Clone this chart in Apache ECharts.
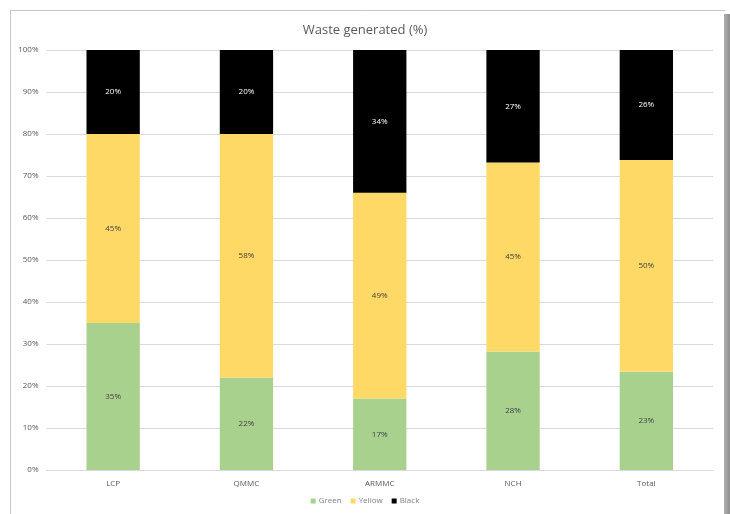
<!DOCTYPE html>
<html>
<head>
<meta charset="utf-8">
<script src="https://cdn.jsdelivr.net/npm/echarts@6/dist/echarts.min.js"></script>
<style>
  html, body { margin: 0; padding: 0; background: #fff; }
  #chart { width: 730px; height: 514px; }
</style>
</head>
<body>
<div id="chart"></div>
<script>
// Share of waste by colour category at each site (%)
const categories = ['LCP', 'QMMC', 'ARMMC', 'NCH', 'Total'];
const green  = [35, 22, 17, 28.2, 23.4];
const yellow = [45, 58, 49, 45, 50.4];
const black  = [20, 20, 34, 26.8, 26.2];
const yTicks = [0, 10, 20, 30, 40, 50, 60, 70, 80, 90, 100];

const FONT = '"Open Sans", "Liberation Sans", sans-serif';
const chart = echarts.init(document.getElementById('chart'), null, { renderer: 'canvas' });

function barSeries(name, data, color, labelColor) {
  return {
    name: name,
    type: 'bar',
    stack: 'share',
    data: data,
    barWidth: '40%',
    itemStyle: { color: color },
    label: {
      show: true,
      position: 'inside',
      color: labelColor,
      fontFamily: FONT,
      fontSize: 8,
      fontWeight: 'normal',
      formatter: p => Math.round(p.value) + '%'
    },
    emphasis: { disabled: true }
  };
}

chart.setOption({
  animation: false,
  backgroundColor: '#fff',
  title: {
    text: 'Waste generated (%)',
    left: 'center',
    top: 19,
    textStyle: { fontFamily: FONT, fontSize: 13, fontWeight: 'normal', color: '#595959' }
  },
  legend: {
    bottom: 4,
    left: 'center',
    itemWidth: 5,
    itemHeight: 5,
    itemGap: 9,
    icon: 'rect',
    textStyle: { fontFamily: FONT, fontSize: 8, color: '#7f7f7f', padding: [0, 0, 0, -2] },
    data: ['Green', 'Yellow', 'Black']
  },
  grid: { left: 46.5, right: 17, top: 50, bottom: 44, containLabel: false },
  xAxis: {
    type: 'category',
    data: categories,
    axisTick: { show: false },
    axisLine: { lineStyle: { color: '#d9d9d9' } },
    axisLabel: { fontFamily: FONT, fontSize: 8, color: '#595959', margin: 10 }
  },
  yAxis: {
    type: 'value',
    min: yTicks[0],
    max: yTicks[yTicks.length - 1],
    interval: 10,
    axisLine: { show: false },
    axisTick: { show: false },
    splitLine: { lineStyle: { color: '#d9d9d9' } },
    axisLabel: { fontFamily: FONT, fontSize: 8, color: '#595959', margin: 8, formatter: '{value}%' }
  },
  series: [
    barSeries('Green', green, '#a9d18e', '#404040'),
    barSeries('Yellow', yellow, '#ffd966', '#404040'),
    barSeries('Black', black, '#000000', '#ffffff')
  ],
  graphic: [
    { type: 'line', shape: { x1: 10, y1: 10.5, x2: 725, y2: 10.5 }, style: { stroke: '#c6c6c6', lineWidth: 1 }, silent: true },
    { type: 'line', shape: { x1: 10.5, y1: 10, x2: 10.5, y2: 514 }, style: { stroke: '#c6c6c6', lineWidth: 1 }, silent: true },
    {
      type: 'rect',
      shape: { x: 724, y: 14, width: 6, height: 500 },
      style: {
        fill: new echarts.graphic.LinearGradient(0, 0, 1, 0, [
          { offset: 0, color: '#b0b0b0' },
          { offset: 1, color: '#8e8e8e' }
        ])
      },
      silent: true
    }
  ]
});
</script>
</body>
</html>
